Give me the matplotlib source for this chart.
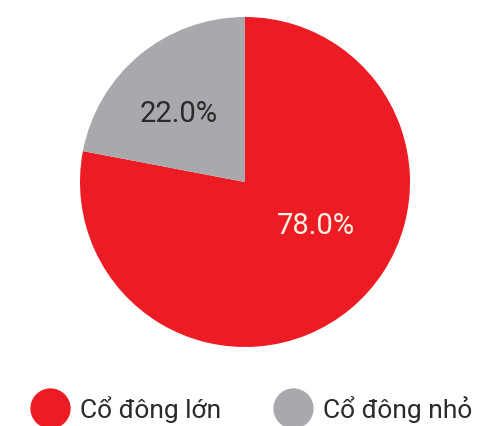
import matplotlib
matplotlib.use("Agg")
import matplotlib.pyplot as plt
from matplotlib.lines import Line2D

# co cau co dong
labels = ["Cổ đông lớn", "Cổ đông nhỏ"]
shares = [78.0, 22.0]
colors = ["#ED1C24", "#A7A9AC"]
text_colors = ["#FFF3E6", "#2B2B2B"]
label_pos = [(0.43, -0.26), (-0.40, 0.42)]

plt.rcParams['font.family'] = ['Roboto', 'DejaVu Sans']

fig = plt.figure(figsize=(4.82, 4.27), dpi=100)
ax = fig.add_axes([80 / 482, 79 / 427, 330 / 482, 330 / 427])

wedges, texts, autotexts = ax.pie(shares, colors=colors, startangle=90, counterclock=False,
                                  autopct='%1.1f%%', radius=1.0,
                                  wedgeprops={'linewidth': 0})
for t, c, p in zip(autotexts, text_colors, label_pos):
    t.set_color(c)
    t.set_fontsize(21)
    t.set_position(p)
ax.set_xlim(-1, 1)
ax.set_ylim(-1, 1)
ax.set_aspect('equal')
ax.axis('off')

handles = [Line2D([], [], marker='o', linestyle='', markersize=29,
                  markerfacecolor=c, markeredgewidth=0) for c in colors]
fig.legend(handles, labels, loc='center', bbox_to_anchor=(0.52, 1 - 410 / 427),
           ncol=2, frameon=False, fontsize=19, labelcolor='#2B2B2B',
           handletextpad=0.35, columnspacing=1.9, handlelength=1.6,
           borderpad=0, borderaxespad=0)

fig.savefig("out.png", dpi=100, facecolor='white')
